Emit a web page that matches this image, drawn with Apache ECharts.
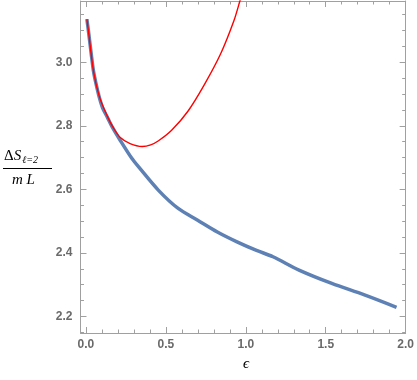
<!DOCTYPE html>
<html><head><meta charset="utf-8">
<script src="https://cdn.jsdelivr.net/npm/echarts@6/dist/echarts.min.js"></script>
<style>html,body{margin:0;padding:0;background:#fff}#c{width:417px;height:380px}</style>
</head><body><div id="c"></div>
<script>
// Numerical data (blue dots)
const blueEps = [0.006,0.018,0.033,0.047,0.063,0.084,0.104,0.135,0.166,0.215,0.288,0.331,0.454,0.577,0.699,0.822,0.945,1.067,1.170,1.333,1.538,1.742,1.943];
const blueVal = [3.136,3.089,3.027,2.973,2.933,2.889,2.857,2.826,2.795,2.754,2.697,2.670,2.597,2.540,2.503,2.466,2.435,2.408,2.388,2.346,2.304,2.268,2.229];
// Approximation (red curve)
const redEps = [0.006,0.018,0.047,0.084,0.135,0.170,0.215,0.276,0.352,0.405,0.454,0.536,0.638,0.740,0.842,0.925,0.963,0.994];
const redVal = [3.136,3.089,2.973,2.892,2.829,2.795,2.763,2.744,2.735,2.740,2.753,2.786,2.846,2.929,3.026,3.130,3.193,3.247];
const xTicks = [0.0,0.5,1.0,1.5,2.0];
const xMinor = [0.1,0.2,0.3,0.4,0.6,0.7,0.8,0.9,1.1,1.2,1.3,1.4,1.6,1.7,1.8,1.9];
const yTicks = [2.2,2.4,2.6,2.8,3.0];
const yMinor = [2.15,2.25,2.3,2.35,2.45,2.5,2.55,2.65,2.7,2.75,2.85,2.9,2.95,3.05,3.1,3.15];

const X0=-0.034, X1=2.0, Y0=2.148, Y1=3.193;
const frame='#a0a0a0';
function xa(pos, vals, len, labels, showLine){
  return {type:'value', min:X0, max:X1, position:pos,
    axisLine:{show:showLine, onZero:false, lineStyle:{color:frame,width:1}},
    axisTick:{show:true, inside:true, length:len, customValues:vals, lineStyle:{color:frame}},
    axisLabel:{show:labels, customValues:vals, formatter:v=>v.toFixed(1), color:'#6a6a6a', fontFamily:'Liberation Sans', fontWeight:'bold', fontSize:12, margin:6},
    splitLine:{show:false}};
}
function ya(pos, vals, len, labels, showLine){
  return {type:'value', min:Y0, max:Y1, position:pos,
    axisLine:{show:showLine, onZero:false, lineStyle:{color:frame,width:1}},
    axisTick:{show:true, inside:true, length:len, customValues:vals, lineStyle:{color:frame}},
    axisLabel:{show:labels, customValues:vals, formatter:v=>v.toFixed(1), color:'#6a6a6a', fontFamily:'Liberation Sans', fontWeight:'bold', fontSize:12, margin:8},
    splitLine:{show:false}};
}
const chart = echarts.init(document.getElementById('c'), null, {renderer:'canvas'});
chart.setOption({
  animation:false,
  grid:{left:80.5, right:5, top:1, bottom:47},
  xAxis:[xa('bottom',xTicks,6,true,true), xa('bottom',xMinor,3.5,false,false), xa('top',xTicks,6,false,true), xa('top',xMinor,3.5,false,false)],
  yAxis:[ya('left',yTicks,6,true,true), ya('left',yMinor,3.5,false,false), ya('right',yTicks,6,false,true), ya('right',yMinor,3.5,false,false)],
  series:[
    {type:'line', xAxisIndex:0, yAxisIndex:0, data:blueEps.map((e,i)=>[e,blueVal[i]]), smooth:0.3, showSymbol:false,
     lineStyle:{color:'#5e81b5', width:3.5}, z:2},
    {type:'line', xAxisIndex:0, yAxisIndex:0, data:redEps.map((e,i)=>[e,redVal[i]]), smooth:0.3, showSymbol:false, clip:true,
     lineStyle:{color:'#ff0000', width:1.4}, z:3}
  ],
  graphic:[
    {type:'text', left:4, top:149, style:{text:'{a|Δ}{b|S}{c|ℓ=2}', rich:{
      a:{font:'15px "Liberation Serif"', fill:'#000'},
      b:{font:'italic 15px "Liberation Serif"', fill:'#000', padding:[0,1,0,0]},
      c:{font:'italic 10px "Liberation Serif"', fill:'#000', padding:[8,0,0,0]}}}},
    {type:'line', shape:{x1:3, y1:168.5, x2:52, y2:168.5}, style:{stroke:'#000', lineWidth:1}},
    {type:'text', left:12, top:173, style:{text:'m L', font:'italic 15px "Liberation Serif"', fill:'#000'}},
    {type:'text', left:243, top:357, style:{text:'ϵ', font:'italic 15px "Liberation Serif"', fill:'#000'}}
  ]
});
</script></body></html>
